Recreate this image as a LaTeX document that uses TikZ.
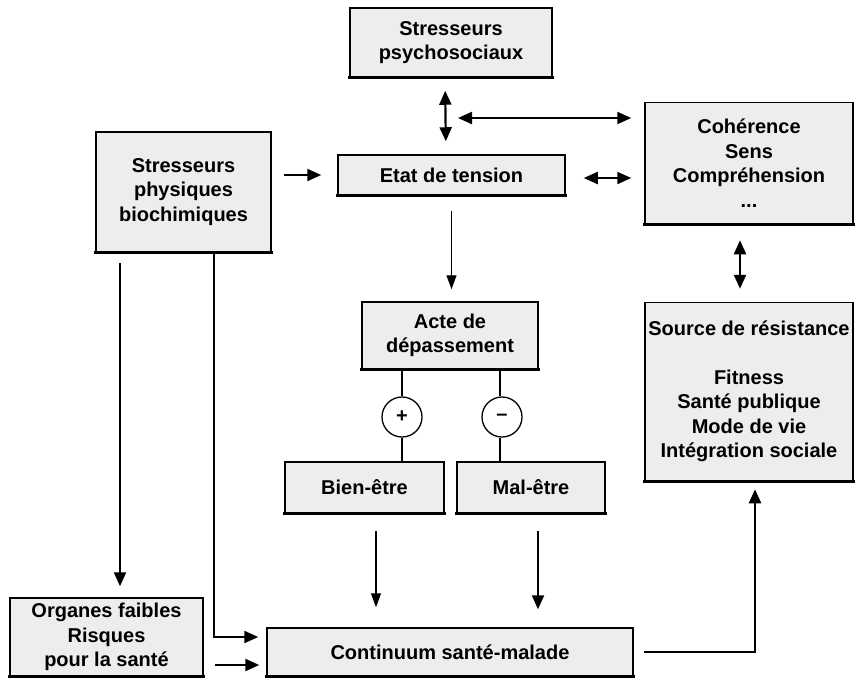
\documentclass[tikz,border=0pt]{standalone}
\usepackage{fontspec}
\setmainfont{Liberation Sans}
\usetikzlibrary{arrows.meta}
\begin{document}
\begin{tikzpicture}[x=1pt,y=-1pt,
  box/.style={draw=black,line width=1.5pt,fill=black!7,inner sep=0pt,align=center,
    font=\bfseries\fontsize{20}{24.5}\selectfont},
  sign/.style={draw=black,line width=1.3pt,fill=white,circle,minimum size=40pt,inner sep=0pt,
    font=\bfseries\fontsize{20}{20}\selectfont},
  arr/.style={line width=2.2pt,-{Triangle[length=14pt,width=12pt]}},
  darr/.style={line width=2.2pt,{Triangle[length=14pt,width=12pt]}-{Triangle[length=14pt,width=12pt]}},
  tarr/.style={line width=1.1pt,-{Triangle[length=14pt,width=10pt]}},
  link/.style={line width=2.2pt},
  botline/.style={line width=3pt,line cap=rect}]
\useasboundingbox (0,0) rectangle (856,681);
% boxes
\node[box,minimum width=202pt,minimum height=69pt] (psy) at (451,42.5) {Stresseurs\\psychosociaux};
\node[box,minimum width=227pt,minimum height=40pt] (etat) at (451.5,175) {Etat de tension};
\node[box,minimum width=175pt,minimum height=120pt] (phys) at (183.5,192) {Stresseurs\\physiques\\biochimiques};
\node[box,minimum width=208pt,minimum height=121pt] (coh) at (749,163) {Cohérence\\Sens\\Compréhension\\...};
\node[box,minimum width=208pt,minimum height=178pt] (src) at (749,391.5) {Source de résistance\\[24pt]Fitness\\Santé publique\\Mode de vie\\Intégration sociale};
\node[box,minimum width=176pt,minimum height=67pt] (acte) at (450,335.5) {Acte de\\dépassement};
\node[sign] (plus) at (402,417) {+};
\node[sign] (minus) at (502,417) {–};
\node[box,minimum width=159pt,minimum height=51pt] (bien) at (364.5,487.5) {Bien-être};
\node[box,minimum width=148pt,minimum height=51pt] (mal) at (531,487.5) {Mal-être};
\node[box,minimum width=193pt,minimum height=78pt] (org) at (106.5,637) {Organes faibles\\Risques\\pour la santé};
\node[box,minimum width=366pt,minimum height=48pt] (cont) at (450,652) {Continuum santé-malade};
\foreach \n in {psy,etat,phys,coh,src,acte,bien,mal,org,cont}
  \draw[botline] (\n.south west) -- (\n.south east);
% connectors
\draw[darr,shorten <=13pt,shorten >=13pt] ([xshift=-6pt]psy.south) -- ([xshift=-5.5pt]etat.north);
\coordinate (h1) at (458,118);
\draw[darr,shorten >=13pt] (h1) -- (h1 -| coh.west);
\draw[arr,shorten <=12pt,shorten >=16pt] (phys.east |- etat.west) -- (etat.west);
\draw[darr,shorten <=18pt,shorten >=13pt] ([yshift=-3pt]etat.east) -- ([yshift=-3pt]etat.east -| coh.west);
\draw[tarr,shorten <=15pt,shorten >=12pt] (etat.south) -- (etat.south |- acte.north);
\draw[darr,shorten <=16pt,shorten >=13pt] ([xshift=-9pt]coh.south) -- ([xshift=-9pt]src.north);
\draw[link] (plus.north |- acte.south) -- (plus.north);
\draw[link] (plus.south) -- (plus.south |- bien.north);
\draw[link] ([xshift=-2pt]minus.north |- acte.south) -- ([xshift=-2pt]minus.north);
\draw[link] ([xshift=-2pt]minus.south) -- ([xshift=-2pt]minus.south |- mal.north);
\draw[tarr,shorten <=17pt,shorten >=20pt] ([xshift=11.5pt]bien.south) -- ([xshift=11.5pt]bien.south |- cont.north);
\draw[arr,shorten <=17pt,shorten >=18pt] ([xshift=7pt]mal.south) -- ([xshift=7pt]mal.south |- cont.north);
\draw[arr,shorten <=10pt,shorten >=11pt] ([xshift=-63.5pt]phys.south) -- ([xshift=-63.5pt]phys.south |- org.north);
\coordinate (c1) at (214,637);
\draw[arr,shorten >=8pt] ([xshift=30.5pt]phys.south) -- (c1) -- (c1 -| cont.west);
\coordinate (c2) at (215,665);
\draw[arr,shorten >=7pt] (c2) -- (c2 -| cont.west);
\coordinate (c3) at (755,652);
\draw[arr,shorten <=10pt,shorten >=8pt] (cont.east) -- (c3) -- (c3 |- src.south);
\end{tikzpicture}
\end{document}
